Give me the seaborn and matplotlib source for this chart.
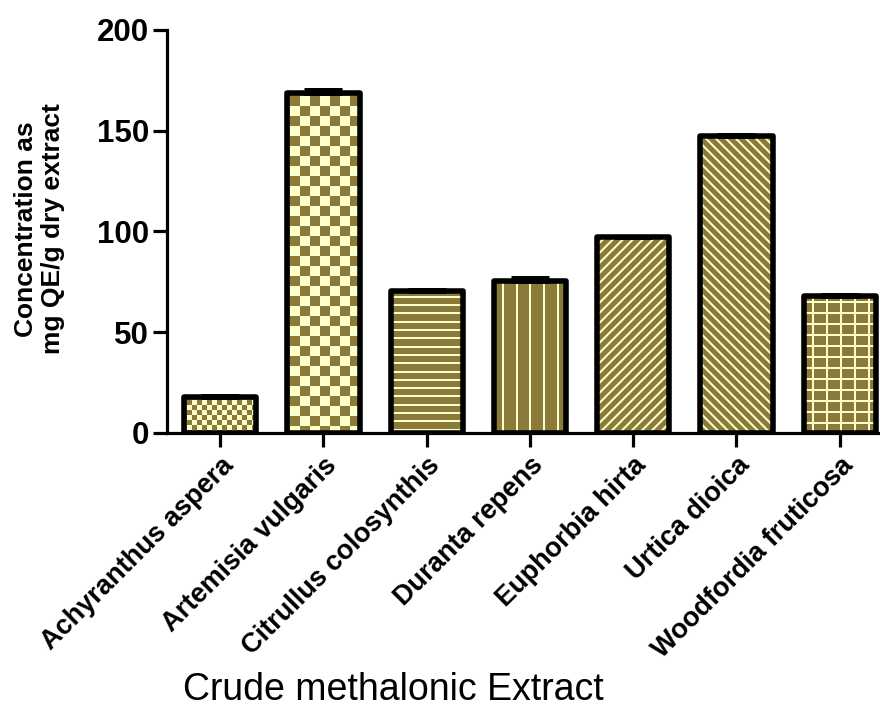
import numpy as np
import pandas as pd
import matplotlib
matplotlib.use("Agg")
import matplotlib.pyplot as plt
import seaborn as sns
from matplotlib.collections import LineCollection, PolyCollection
from matplotlib.patches import Rectangle

# ---- data -------------------------------------------------------------
extracts = ["Achyranthus aspera", "Artemisia vulgaris", "Citrullus colosynthis",
            "Duranta repens", "Euphorbia hirta", "Urtica dioica",
            "Woodfordia fruticosa"]
concentration = [18.0, 168.5, 70.5, 75.5, 97.0, 147.5, 68.0]
sd = [0.3, 1.5, 0.5, 1.5, 0.3, 0.5, 0.3]
fill_styles = ["checker_small", "checker_large", "hlines", "vlines",
               "diag_up", "diag_down", "grid"]
y_ticks = [0, 50, 100, 150, 200]

OLIVE = "#8B7B3B"
CREAM = "#FFFFCC"

sns.set_theme(style="ticks")
plt.rcParams["font.family"] = ["Liberation Sans", "DejaVu Sans"]
plt.rcParams["text.color"] = "black"
plt.rcParams["xtick.color"] = "black"
plt.rcParams["ytick.color"] = "black"

df = pd.DataFrame({"extract": extracts, "conc": concentration})

fig = plt.figure(figsize=(8.8, 7.11), dpi=100)
ax = fig.add_axes([0.19, 0.391, 0.81, 0.567])

sns.barplot(data=df, x="extract", y="conc", color=OLIVE, saturation=1,
            width=0.7, errorbar=None, edgecolor="none", linewidth=0, ax=ax)

ax.set_xlim(-0.513, 6.39)
ax.set_ylim(0, 200)
ax.set_yticks(y_ticks)
ax.set_yticklabels([str(t) for t in y_ticks], fontsize=22.5, fontweight="bold",
                   color="black")
ax.set_xticks(range(len(extracts)))
ax.set_xticklabels(extracts, rotation=45, ha="right", rotation_mode="anchor",
                   fontsize=19.5, fontweight="bold", color="black")
ax.set_xlabel("")
ax.set_ylabel("")

for side in ("top", "right"):
    ax.spines[side].set_visible(False)
for side in ("left", "bottom"):
    ax.spines[side].set_linewidth(2.3)
    ax.spines[side].set_color("black")
ax.tick_params(axis="y", length=10, width=2.3, pad=3, colors="black")
ax.tick_params(axis="x", length=10, width=2.3, pad=4, colors="black")

# ---- fill patterns drawn in pixel space, clipped to each bar ----------
trans = ax.transData
inv = trans.inverted()
PX = 72.0 / fig.dpi  # points per pixel


def to_data(segs):
    return [inv.transform(np.asarray(s)) for s in segs]


bars = list(ax.patches)
for patch, style in zip(bars, fill_styles):
    x0, y0 = patch.get_x(), patch.get_y()
    w, h = patch.get_width(), patch.get_height()
    (px0, py0), (px1, py1) = trans.transform([(x0, y0), (x0 + w, y0 + h)])
    segs = []
    polys = []
    if style.startswith("checker"):
        s = 5.0 if style == "checker_small" else 10.0
        nx = int(np.ceil((px1 - px0) / s)) + 1
        ny = int(np.ceil((py1 - py0) / s)) + 1
        for i in range(nx):
            for j in range(ny):
                if (i + j) % 2 == 1:
                    xa = px0 + 3 + i * s
                    ya = py1 - 3 - j * s
                    polys.append([(xa, ya), (xa + s, ya), (xa + s, ya - s), (xa, ya - s)])
    if style in ("hlines", "grid"):
        step = 8.3 if style == "hlines" else 11.0
        for yy in np.arange(py1 - 6, py0, -step):
            segs.append([(px0, yy), (px1, yy)])
    if style in ("vlines", "grid"):
        step = 13.7 if style == "vlines" else 14.0
        for xx in np.arange(px0 + 9, px1, step):
            segs.append([(xx, py0), (xx, py1)])
    if style == "diag_up":
        for c in np.arange(py0 - px1, py1 - px0, 10.0):
            segs.append([(px0, px0 + c), (px1, px1 + c)])
    if style == "diag_down":
        for c in np.arange(py0 + px0, py1 + px1, 10.0):
            segs.append([(px0, c - px0), (px1, c - px1)])

    if polys:
        pc = PolyCollection([inv.transform(np.asarray(p)) for p in polys],
                            facecolors=CREAM, edgecolors="none", zorder=2.5)
        ax.add_collection(pc, autolim=False)
        pc.set_clip_path(patch)
    if segs:
        lc = LineCollection(to_data(segs), colors=CREAM, linewidths=2.0 * PX,
                            zorder=2.5)
        ax.add_collection(lc, autolim=False)
        lc.set_clip_path(patch)

    # heavy black outline with rounded corners
    outline = Rectangle((x0, y0), w, h, fill=False, edgecolor="black",
                        linewidth=4.0, joinstyle="round", zorder=3.5)
    ax.add_patch(outline)

# upper error bars (SD)
ax.errorbar(x=np.arange(len(extracts)), y=concentration,
            yerr=[np.zeros(len(sd)), sd], fmt="none", ecolor="black",
            elinewidth=3, capsize=14, capthick=3.6, zorder=4)

ax.set_xlim(-0.513, 6.39)
ax.set_ylim(0, 200)

fig.text(0.045, 0.678, "Concentration as\nmg QE/g dry extract", rotation=90,
         ha="center", va="center", multialignment="center", fontsize=19,
         fontweight="bold", linespacing=1.15, color="black")
fig.text(0.447, 0.03, "Crude methalonic Extract", ha="center", va="center",
         fontsize=27, color="black")

fig.savefig("out.png", dpi=100)
